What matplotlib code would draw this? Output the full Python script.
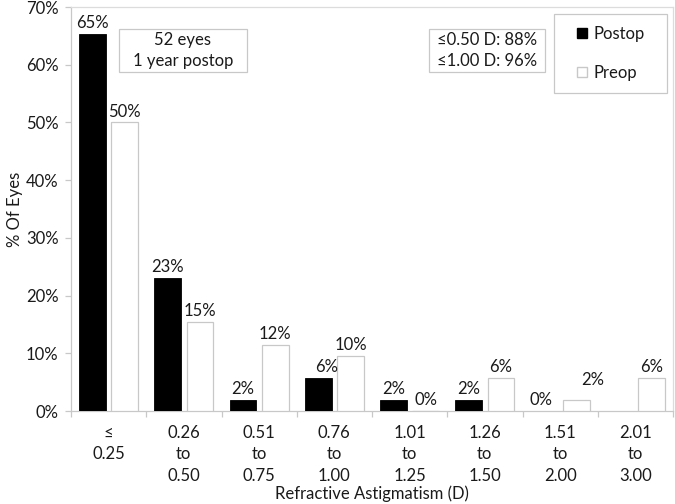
import matplotlib
matplotlib.use("Agg")
import matplotlib.pyplot as plt
from matplotlib.patches import Rectangle
from matplotlib.lines import Line2D
import numpy as np

plt.rcParams['font.family'] = ['Lato', 'DejaVu Sans']

categories = ["≤\n0.25", "0.26\nto\n0.50", "0.51\nto\n0.75", "0.76\nto\n1.00",
              "1.01\nto\n1.25", "1.26\nto\n1.50", "1.51\nto\n2.00", "2.01\nto\n3.00"]
postop = [65.4, 23.1, 1.9, 5.8, 1.9, 1.9, 0.0, 0.0]
preop = [50.0, 15.4, 11.5, 9.6, 0.0, 5.8, 1.9, 5.8]
postop_labels = ["65%", "23%", "2%", "6%", "2%", "2%", "0%", ""]
preop_labels = ["50%", "15%", "12%", "10%", "0%", "6%", "2%", "6%"]
yticks = [0, 10, 20, 30, 40, 50, 60, 70]
ytick_labels = ["0%", "10%", "20%", "30%", "40%", "50%", "60%", "70%"]
box1_lines = "52 eyes\n1 year postop"
box2_lines = "≤0.50 D: 88%\n≤1.00 D: 96%"
series_names = ["Postop", "Preop"]
xlabel = "Refractive Astigmatism (D)"
ylabel = "% Of Eyes"

# label nudges (points) for a few labels, matching the reference placement
post_nudge = {3: (6, 0), 6: (-2, 0)}
pre_nudge = {6: (12, 7)}

TXT = "#1a1a1a"
GRID = "#c8c8c8"
FS = 12

fig = plt.figure(figsize=(6.75, 5.04), dpi=100)
ax = fig.add_axes([71/675, 1-411/504, 602/675, 404/504])

x = np.arange(len(categories))
w = 0.355
off = 0.215
b1 = ax.bar(x - off, postop, width=w, color="black", edgecolor="black", linewidth=0.6, zorder=3)
b2 = ax.bar(x + off, preop, width=w, color="white", edgecolor=GRID, linewidth=0.9, zorder=3)

for i, (r, lab) in enumerate(zip(b1, postop_labels)):
    if not lab:
        continue
    dx, dy = post_nudge.get(i, (0, 0))
    ax.annotate(lab, (r.get_x() + r.get_width()/2, r.get_height()), xytext=(dx, 2 + dy),
                textcoords="offset points", ha="center", va="bottom", fontsize=FS, color=TXT)
for i, (r, lab) in enumerate(zip(b2, preop_labels)):
    if not lab:
        continue
    dx, dy = pre_nudge.get(i, (0, 0))
    ax.annotate(lab, (r.get_x() + r.get_width()/2, r.get_height()), xytext=(dx, 2 + dy),
                textcoords="offset points", ha="center", va="bottom", fontsize=FS, color=TXT)

ax.set_xlim(-0.5, len(categories) - 0.5)
ax.set_ylim(0, 70)
ax.set_yticks(yticks)
ax.set_yticklabels(ytick_labels, fontsize=FS, color=TXT)
ax.set_xticks(x)
ax.set_xticklabels(categories, fontsize=FS, color=TXT, linespacing=1.42)
ax.set_xticks(np.arange(len(categories) + 1) - 0.5, minor=True)
ax.tick_params(axis="x", which="major", length=0, pad=10)
ax.tick_params(axis="x", which="minor", length=4, color=GRID, width=0.9)
ax.tick_params(axis="y", length=4, color=GRID, width=0.9, pad=5)

for s in ["left", "bottom"]:
    ax.spines[s].set_color(GRID)
    ax.spines[s].set_linewidth(0.9)
for s in ["top", "right"]:
    ax.spines[s].set_color("#dcdcdc")
    ax.spines[s].set_linewidth(0.9)

ax.set_xlabel(xlabel, fontsize=FS, color=TXT, labelpad=1)
ax.set_ylabel(ylabel, fontsize=FS, color=TXT)
ax.yaxis.set_label_coords(-0.08, 0.5)

# text boxes
def tbox(x0, x1, y0, y1, txt):
    ax.add_patch(Rectangle((x0, y0), x1 - x0, y1 - y0, transform=ax.transAxes,
                           facecolor="white", edgecolor=GRID, linewidth=0.9, zorder=4))
    ax.text((x0 + x1)/2, (y0 + y1)/2, txt, transform=ax.transAxes, ha="center", va="center",
            fontsize=FS, color=TXT, linespacing=1.35, zorder=5)

tbox(0.0797, 0.292, 0.839, 0.9455, box1_lines)
tbox(0.595, 0.787, 0.839, 0.9455, box2_lines)

# legend frame + legend
lx0, lx1, ly0, ly1 = 0.802, 0.990, 0.787, 0.983
ax.add_patch(Rectangle((lx0, ly0), lx1 - lx0, ly1 - ly0, transform=ax.transAxes,
                       facecolor="white", edgecolor=GRID, linewidth=0.9, zorder=4))
handles = [Line2D([], [], marker="s", linestyle="", markersize=6.5, markerfacecolor="black",
                  markeredgecolor="black"),
           Line2D([], [], marker="s", linestyle="", markersize=6.5, markerfacecolor="white",
                  markeredgecolor=GRID)]
leg = ax.legend(handles, series_names, loc="center", bbox_to_anchor=((lx0 + lx1)/2, (ly0 + ly1)/2),
                frameon=False, fontsize=FS, handlelength=0.8, handletextpad=0.3,
                labelspacing=1.35, labelcolor=TXT)
leg.set_zorder(6)

fig.savefig("out.png", dpi=100)
